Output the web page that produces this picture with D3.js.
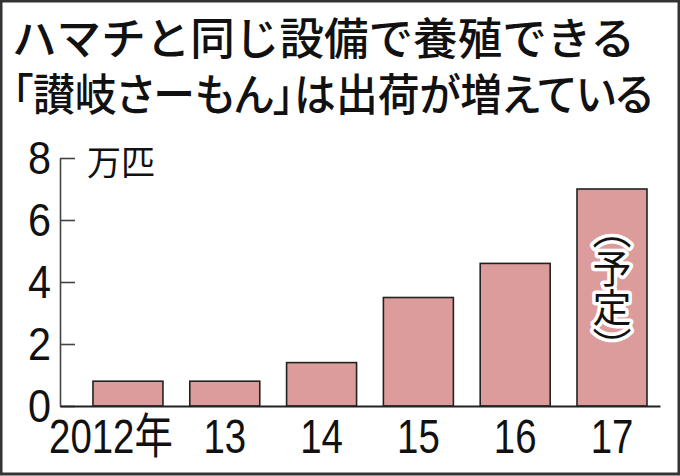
<!DOCTYPE html>
<html>
<head>
<meta charset="utf-8">
<script src="https://cdn.jsdelivr.net/npm/d3@7"></script>
<style>
  html, body { margin: 0; padding: 0; background: #fff; }
  svg { display: block; }
</style>
</head>
<body>
<div id="chart"></div>
<script>
// Data
const titleLines = ['ハマチと同じ設備で養殖できる', '「讃岐さーもん」は出荷が増えている'];
const years = ['2012年', '13', '14', '15', '16', '17'];
const shipments = [0.8, 0.8, 1.4, 3.5, 4.6, 7.0];
const yTicks = [0, 2, 4, 6, 8];
const unitLabel = '万匹';
const plannedNote = '（予定）';

const W = 680, H = 476;

const svg = d3.select('#chart')
    .append('svg')
    .attr('width', W)
    .attr('height', H);

// Frame
svg.append('rect')
    .attr('x', 1)
    .attr('y', 1)
    .attr('width', W - 2)
    .attr('height', H - 3)
    .attr('fill', '#fff')
    .attr('stroke', '#333')
    .attr('stroke-width', 3);

// Title
const titleFont = "'Noto Sans CJK JP', 'Noto Sans CJK SC', sans-serif";
svg.append('text')
    .attr('x', 12)
    .attr('y', 55)
    .attr('textLength', 623)
    .attr('lengthAdjust', 'spacingAndGlyphs')
    .style('font-family', titleFont)
    .style('font-size', '44px')
    .style('font-weight', 500)
    .style('fill', '#111')
    .text(titleLines[0]);

svg.append('text')
    .attr('x', 12)
    .attr('y', 111)
    .attr('textLength', 641)
    .attr('lengthAdjust', 'spacingAndGlyphs')
    .style('font-family', titleFont)
    .style('font-feature-settings', "'palt' 1")
    .style('font-size', '44px')
    .style('font-weight', 500)
    .style('fill', '#111')
    .text(titleLines[1]);

// Scales
const x = d3.scaleBand()
    .domain(years)
    .range([60, 660])
    .paddingInner(0.277)
    .paddingOuter(0.2375)
    .align(0.717);

const y = d3.scaleLinear()
    .domain([0, 8])
    .range([406, 158]);

// Bars
svg.selectAll('.bar')
    .data(shipments)
    .enter()
    .append('rect')
    .attr('class', 'bar')
    .attr('x', (d, i) => x(years[i]))
    .attr('y', d => y(d))
    .attr('width', x.bandwidth())
    .attr('height', d => y(0) - y(d))
    .attr('fill', '#dc9c9c')
    .attr('stroke', '#222')
    .attr('stroke-width', 1.6);

// Y axis (ticks point inward)
const yAxis = svg.append('g')
    .attr('transform', `translate(${60},0)`)
    .call(d3.axisLeft(y)
        .tickValues(yTicks)
        .tickSize(-15)
        .tickSizeOuter(0)
        .tickPadding(10)
        .tickFormat(d3.format('d')));

yAxis.select('.domain').attr('stroke', '#444').attr('stroke-width', 1.6);
yAxis.selectAll('.tick line').attr('stroke', '#444').attr('stroke-width', 1.6);
yAxis.selectAll('.tick text')
    .attr('x', 0)
    .attr('dy', '0.34em')
    .attr('transform', 'translate(-9,0) scale(0.9,1)')
    .style('font-family', "'Liberation Sans', Arial, sans-serif")
    .style('font-size', '46px')
    .style('fill', '#111');

// X axis
const xAxis = svg.append('g')
    .attr('transform', `translate(0,${y(0)})`)
    .call(d3.axisBottom(x)
        .tickSize(0)
        .tickSizeOuter(0)
        .tickPadding(13));

xAxis.select('.domain').attr('stroke', '#222').attr('stroke-width', 1.8);
xAxis.selectAll('.tick text')
    .attr('transform', (d, i) => i === 0 ? 'translate(-17,0) scale(0.8,1)' : 'scale(0.8,1)')
    .style('font-family', "'Liberation Sans', Arial, 'Noto Sans CJK JP', sans-serif")
    .style('font-size', '48px')
    .style('fill', '#111');

// Unit label
svg.append('text')
    .attr('x', 87)
    .attr('y', 175)
    .style('font-family', titleFont)
    .style('font-size', '34px')
    .style('fill', '#111')
    .text(unitLabel);

// "(予定)" note on the last bar, vertical with white halo
const lastYear = years[years.length - 1];
const lastVal = shipments[shipments.length - 1];
svg.append('text')
    .attr('x', x(lastYear) + x.bandwidth() / 2)
    .attr('y', (y(lastVal) + y(0)) / 2 - 10)
    .attr('text-anchor', 'middle')
    .style('writing-mode', 'vertical-rl')
    .style('font-family', titleFont)
    .style('font-size', '39px')
    .style('fill', '#111')
    .style('stroke', '#fff')
    .style('stroke-width', 7)
    .style('stroke-linejoin', 'round')
    .style('paint-order', 'stroke')
    .text(plannedNote);
</script>
</body>
</html>
